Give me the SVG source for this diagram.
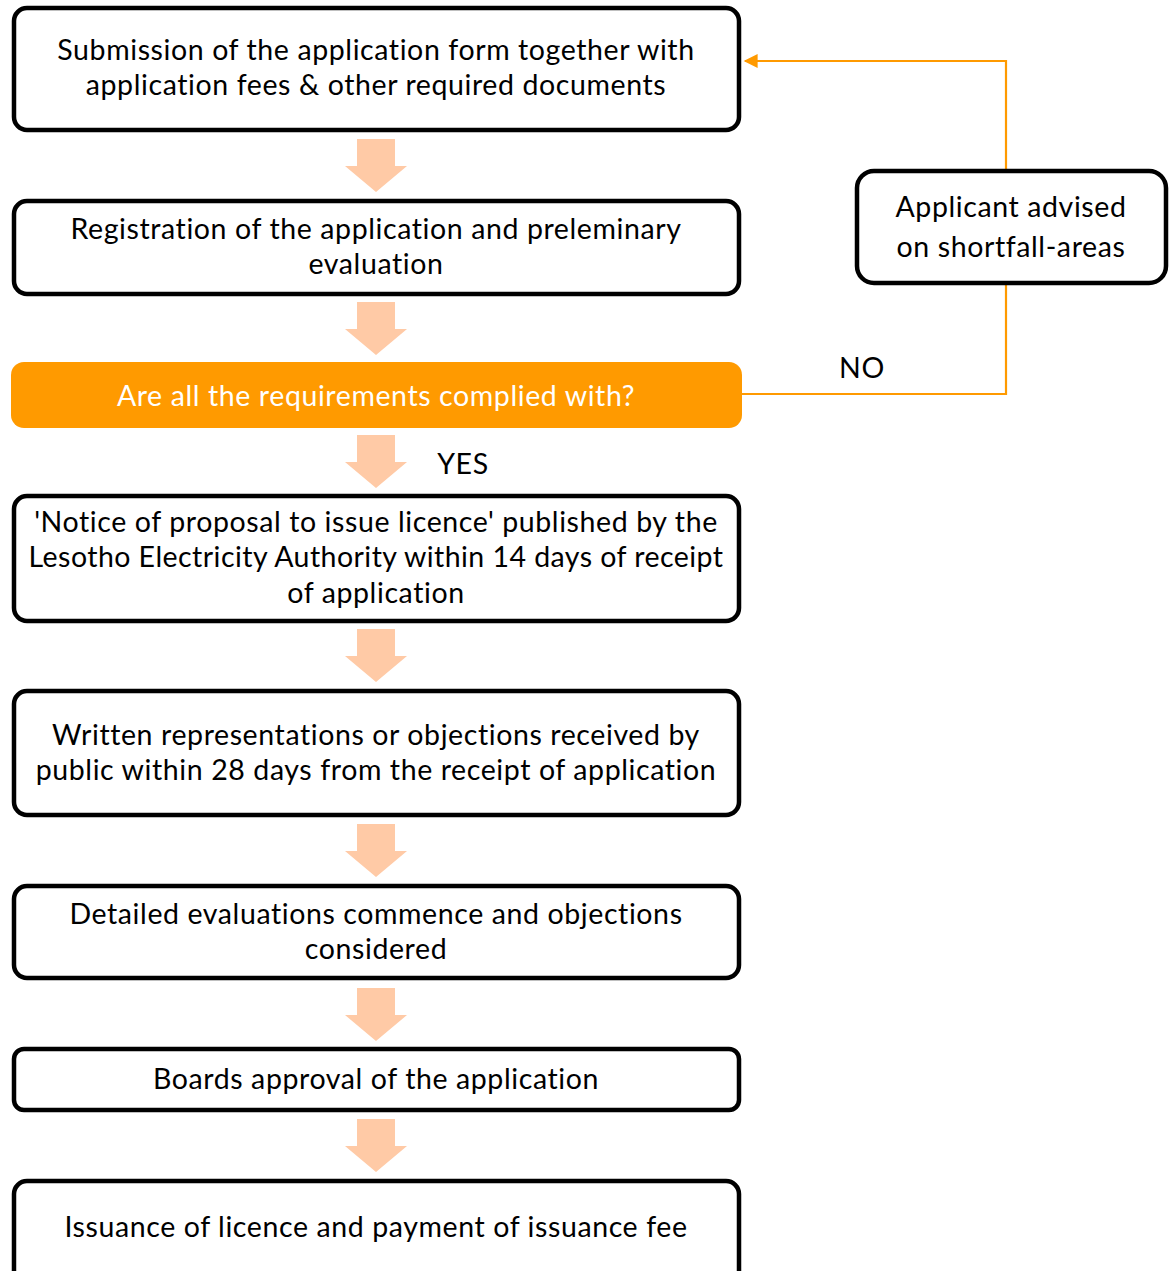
<svg xmlns="http://www.w3.org/2000/svg" width="1176" height="1271" viewBox="0 0 1176 1271">
  <style>
    .box { fill: #ffffff; stroke: #000000; stroke-width: 4.5; }
    .decision { fill: #FF9A00; stroke: none; }
    .t { font-family: Lato, "Liberation Sans", sans-serif; font-size: 28.5px; letter-spacing: 0.6px; fill: #000000; text-anchor: middle; }
    .tw { fill: #ffffff; }
    .tight { letter-spacing: 0.45px; }
    .step { fill: #FFCAA6; }
    .link { fill: none; stroke: #FF9A00; stroke-width: 2.2; }
  </style>
  <defs>
    <marker id="head" viewBox="0 0 10 10" refX="9" refY="5" markerWidth="15" markerHeight="14" markerUnits="userSpaceOnUse" orient="auto">
      <path d="M0,0 L10,5 L0,10 Z" fill="#FF9A00"/>
    </marker>
    <path id="down" d="M357,0 H395 V27 H407 L376,53 L345,27 H357 Z"/>
  </defs>

  <!-- block arrows between steps -->
  <g id="step-arrows" class="step">
    <use href="#down" y="139"/>
    <use href="#down" y="302"/>
    <use href="#down" y="435"/>
    <use href="#down" y="629"/>
    <use href="#down" y="824"/>
    <use href="#down" y="988"/>
    <use href="#down" y="1119"/>
  </g>

  <!-- feedback loop -->
  <g id="connectors">
    <polyline class="link" points="742,394 1006,394 1006,284"/>
    <polyline class="link" points="1006,170 1006,61 745,61" marker-end="url(#head)"/>
    <text class="t" x="862" y="378">NO</text>
    <text class="t" x="463" y="474">YES</text>
  </g>

  <g id="submission">
    <rect class="box" x="14" y="8" width="725" height="122" rx="13"/>
    <text class="t" x="376" y="60">Submission of the application form together with</text>
    <text class="t" x="376" y="95">application fees &amp; other required documents</text>
  </g>

  <g id="registration">
    <rect class="box" x="14" y="201" width="725" height="93" rx="13"/>
    <text class="t" x="376" y="239">Registration of the application and preleminary</text>
    <text class="t" x="376" y="274">evaluation</text>
  </g>

  <g id="requirements-check">
    <rect class="decision" x="11" y="362" width="731" height="66" rx="13"/>
    <text class="t tw" x="376" y="406">Are all the requirements complied with?</text>
  </g>

  <g id="shortfall">
    <rect class="box" x="857" y="171" width="309" height="112" rx="17"/>
    <text class="t" x="1011" y="217">Applicant advised</text>
    <text class="t" x="1011" y="257">on shortfall-areas</text>
  </g>

  <g id="notice">
    <rect class="box" x="14" y="496" width="725" height="125" rx="13"/>
    <text class="t" x="376" y="532">'Notice of proposal to issue licence' published by the</text>
    <text class="t tight" x="376" y="567">Lesotho Electricity Authority within 14 days of receipt</text>
    <text class="t" x="376" y="603">of application</text>
  </g>

  <g id="objections">
    <rect class="box" x="14" y="691" width="725" height="124" rx="13"/>
    <text class="t" x="376" y="745">Written representations or objections received by</text>
    <text class="t" x="376" y="780">public within 28 days from the receipt of application</text>
  </g>

  <g id="evaluation">
    <rect class="box" x="14" y="886" width="725" height="92" rx="13"/>
    <text class="t" x="376" y="924">Detailed evaluations commence and objections</text>
    <text class="t" x="376" y="959">considered</text>
  </g>

  <g id="board-approval">
    <rect class="box" x="14" y="1049" width="725" height="61" rx="10"/>
    <text class="t" x="376" y="1089">Boards approval of the application</text>
  </g>

  <g id="issuance">
    <rect class="box" x="14" y="1181" width="725" height="120" rx="13"/>
    <text class="t" x="376" y="1237">Issuance of licence and payment of issuance fee</text>
  </g>
</svg>
